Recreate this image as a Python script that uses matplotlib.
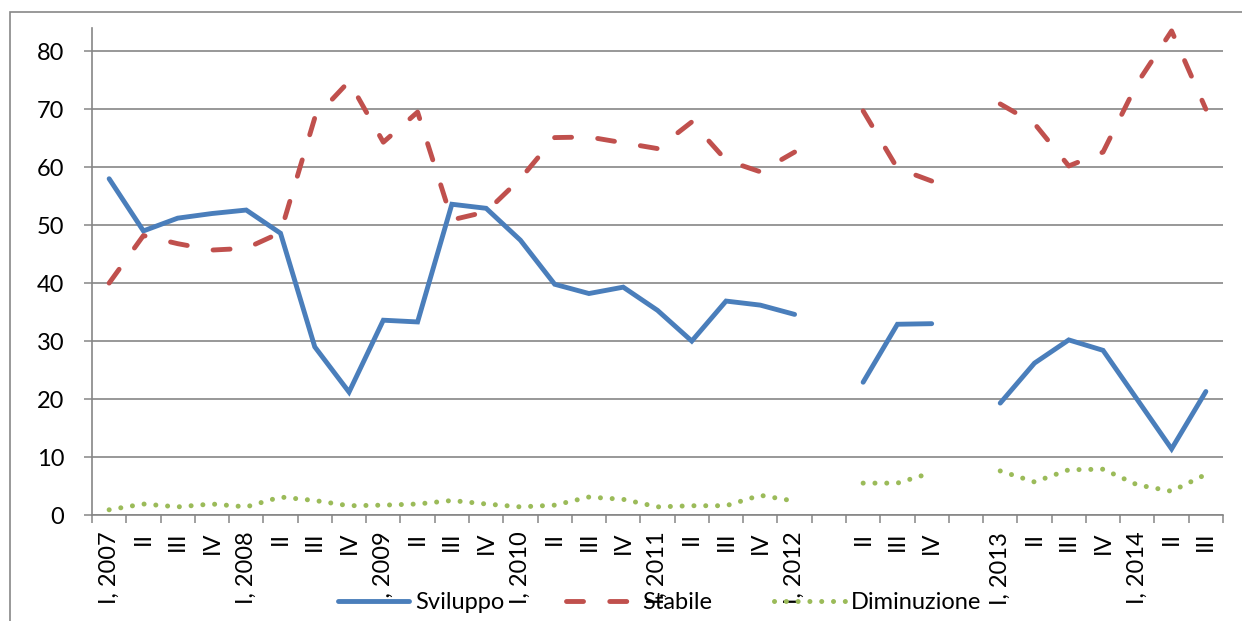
import matplotlib
matplotlib.use("Agg")
import matplotlib.pyplot as plt
import matplotlib.patches as mpatches
import numpy as np

plt.rcParams['font.family'] = ['Lato', 'DejaVu Sans']

# quarters, with two empty slots where the survey was not run
quarters = ["I, 2007", "II", "III", "IV", "I, 2008", "II", "III", "IV",
            "I, 2009", "II", "III", "IV", "I, 2010", "II", "III", "IV",
            "I, 2011", "II", "III", "IV", "I, 2012", "", "II", "III", "IV",
            "", "I, 2013", "II", "III", "IV", "I, 2014", "II", "III"]

nan = np.nan
sviluppo = [58.0, 49.0, 51.2, 52.0, 52.6, 48.6, 29.0, 21.2, 33.6, 33.3,
            53.6, 52.9, 47.4, 39.8, 38.2, 39.3, 35.3, 30.0, 36.9, 36.2,
            34.6, nan, 22.9, 32.9, 33.0, nan, 19.3, 26.2, 30.2, 28.4,
            19.9, 11.4, 21.3]
stabile = [40.0, 48.2, 46.8, 45.7, 46.0, 48.7, 68.5, 74.8, 64.3, 69.5,
           50.9, 52.3, 58.0, 65.1, 65.2, 64.2, 63.2, 67.8, 61.2, 59.2,
           62.6, nan, 69.7, 59.8, 57.6, nan, 70.9, 67.5, 60.2, 62.6,
           74.5, 83.5, 70.0]
diminuzione = [0.9, 1.9, 1.4, 1.9, 1.4, 3.1, 2.5, 1.6, 1.7, 1.9,
               2.5, 1.9, 1.4, 1.7, 3.1, 2.7, 1.4, 1.6, 1.6, 3.4,
               2.4, nan, 5.5, 5.5, 7.3, nan, 7.6, 5.7, 7.8, 7.9,
               5.2, 4.1, 7.0]

BLUE = "#4a7ebb"
RED = "#c0504d"
GREEN = "#9bbb59"
GRID = "#868686"

W, H = 1242, 621
fig = plt.figure(figsize=(W / 100, H / 100), dpi=100)
ax = fig.add_axes([92 / W, 1 - 515 / H, (1223 - 92) / W, (515 - 28) / H])

# outer chart border (runs off the right and bottom edges)
fig.add_artist(mpatches.Rectangle((10 / W, -0.2), 1.2, 1.2 - 12 / H, transform=fig.transFigure,
                                  fill=False, ec="#878787", lw=1.2))

x = np.arange(len(quarters)) + 0.5
ax.plot(x, sviluppo, color=BLUE, lw=3.5, solid_capstyle="round", solid_joinstyle="miter",
        label="Sviluppo", zorder=3)
ax.plot(x, stabile, color=RED, lw=3.5, dashes=(3.5, 5.4), dash_capstyle="round",
        label="Stabile", zorder=3)
ax.plot(x, diminuzione, color=GREEN, lw=3.6, dashes=(0.01, 2.35), dash_capstyle="round",
        label="Diminuzione", zorder=3)

ax.set_xlim(0, len(quarters))
ax.set_ylim(0, 84)
ax.set_yticks(range(0, 81, 10))
ax.yaxis.grid(True, color=GRID, lw=1.2)
ax.set_axisbelow(True)

# category boundaries get tick marks, centres get the labels
ax.set_xticks(np.arange(len(quarters) + 1))
ax.set_xticklabels([])
ax.set_xticks(x, minor=True)
ax.set_xticklabels(quarters, minor=True, rotation=90, fontsize=17)
ax.tick_params(axis="x", which="major", length=6, width=1.1, color=GRID, direction="out")
ax.tick_params(axis="x", which="minor", length=0, pad=12)
ax.tick_params(axis="y", length=6, width=1.1, color=GRID, labelsize=17, pad=14)

for side in ("top", "right"):
    ax.spines[side].set_visible(False)
for side in ("left", "bottom"):
    ax.spines[side].set_color(GRID)
    ax.spines[side].set_linewidth(1.2)

fig.legend(loc="center", bbox_to_anchor=(0.531, 0.029), ncol=3, frameon=False,
           fontsize=17, handlelength=3.0, handletextpad=0.25, columnspacing=2.6,
           borderpad=0, borderaxespad=0)

fig.savefig("out.png", dpi=100)
